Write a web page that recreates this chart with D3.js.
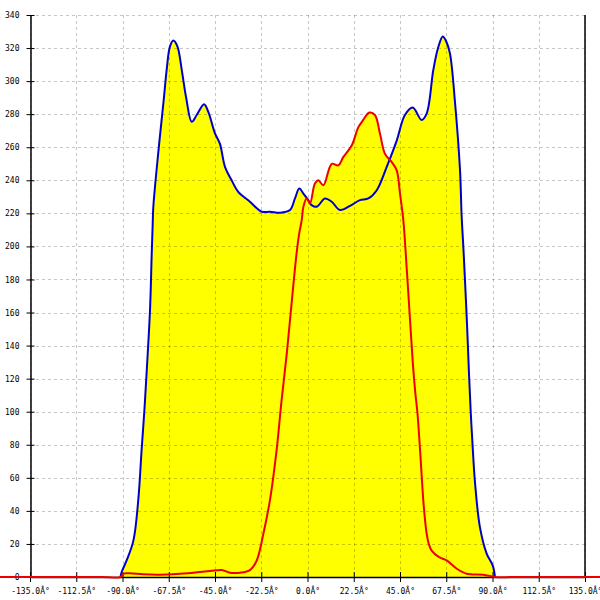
<!DOCTYPE html>
<html><head><meta charset="utf-8">
<script src="https://cdn.jsdelivr.net/npm/d3@7/dist/d3.min.js"></script>
<style>body{margin:0;background:#fff}svg{display:block}</style>
</head><body>
<svg id="c" width="600" height="600"></svg>
<script>
const xTicks = [-135, -112.5, -90, -67.5, -45, -22.5, 0, 22.5, 45, 67.5, 90, 112.5, 135];
const yTicks = [0,20,40,60,80,100,120,140,160,180,200,220,240,260,280,300,320,340];

const blueAngles = [-91,-90.4,-88,-84.7,-82.3,-80.7,-79.4,-78.2,-76.6,-75.8,-75.3,-75,-72.5,-70,-68.5,-66.9,-65.3,-63.3,-61.2,-59.1,-56.3,-53.9,-50.3,-48.3,-45,-42.6,-40.1,-36.9,-33.7,-28,-22.3,-18.2,-13.4,-8.5,-6.1,-4,-2,0.4,2,4.5,8.5,11.8,15.8,20.7,25.5,29.6,33.7,38.5,43.4,47.4,51.2,55.5,58,61.2,63.5,65.8,67.5,69.3,71.8,74.2,75,75.8,76.6,77.7,78.6,79.4,80.2,81.5,83.9,87.2,90.1,91.2];
const blueValues = [0,3,10,22,47,77,100,125,162,195,214,224,258,288,307,321,324.5,321,307,290.5,275.4,279.5,286,281.5,268.4,262,248,240,233,227,221,221,220.4,222,229,235,232,228,225,224,229,227,222,224.5,228,229,234,248,264,279.5,284,276.5,280.5,306.7,320,327,324,316.8,286.6,246,218,200,180,150,122,100,82,57,30,14,7,0];

const redAngles = [-180,-150,-120,-100,-91,-89.6,-86.3,-79.9,-71.8,-63.6,-55.5,-47.4,-41.7,-37.7,-32.8,-28,-24.7,-21.5,-18.2,-15,-12.6,-10.1,-7.7,-5.3,-4,-2.8,-2,-0.4,1.2,3.6,5.3,7.7,11.8,15,17.4,21.5,24.7,27.1,30.1,32.8,35.3,37.7,41,43.4,45,46.6,48.3,49.9,51.2,52.4,53.5,54.7,56.3,57.3,58,59,60.4,64,67.7,72.6,77.4,85.5,91.2,100,120,150,180];
const redValues = [0,0,0,0,0,2,2.2,1.6,1.4,1.8,2.6,3.6,4.2,2.6,2.6,4.2,10,26,47,77,107,135,166,196,208,216,224,229,226,238,240,237,250,249,254,261,272,276.5,281,279.5,268,256,251,246,232,216,186,155,130,112,99,78,47,33,26,20,16,12,10,5,2,1.4,0,0,0,0,0];

const svg = d3.select("#c");
const x = d3.scaleLinear().domain([-135, 135]).range([30, 585]);
const y = d3.scaleLinear().domain([0, 340]).range([577, 15]);

const blue = blueAngles.map((a,i)=>[a, blueValues[i]]);
const red = redAngles.map((a,i)=>[a, redValues[i]]);

const curve = d3.curveCatmullRom.alpha(0.5);
const area = d3.area().x(d=>x(d[0])).y0(y(0)).y1(d=>y(d[1])).curve(curve);
const line = d3.line().x(d=>x(d[0])).y(d=>y(d[1])).curve(curve);

svg.append("path").attr("d", area(blue)).attr("fill", "#ffff00");
svg.append("path").attr("d", area(red)).attr("fill", "#ffff00");

// grid
const g = svg.append("g").attr("stroke", "rgba(0,0,0,0.22)").attr("stroke-dasharray", "3,3").attr("stroke-width", 1);
yTicks.forEach(t => g.append("line").attr("x1", 30).attr("x2", 585).attr("y1", Math.round(y(t))+0.5).attr("y2", Math.round(y(t))+0.5));
xTicks.forEach(t => g.append("line").attr("y1", 15).attr("y2", 577).attr("x1", Math.round(x(t))+0.5).attr("x2", Math.round(x(t))+0.5));

const font = "'DejaVu Sans Mono', monospace";
// left axis
const ya = svg.append("g").attr("transform", "translate(30.5,0)")
  .call(d3.axisLeft(y).tickValues(yTicks).tickFormat(d3.format("d")).tickSizeInner(4).tickSizeOuter(0).tickPadding(7));
ya.selectAll(".tick line").attr("x2", 4).attr("x1", -4).attr("stroke", "#000");
ya.select(".domain").attr("stroke", "#000").attr("stroke-width", 1.5);
ya.selectAll("text").attr("font-family", font).attr("font-size", 8).attr("fill", "#000");

// bottom axis
const xa = svg.append("g").attr("transform", "translate(0,577)")
  .call(d3.axisBottom(x).tickValues(xTicks).tickFormat(d => d.toFixed(1) + "Â°").tickSizeInner(5).tickSizeOuter(0).tickPadding(6));
xa.selectAll(".tick line").attr("y1", -5).attr("y2", 5).attr("stroke", "#000");
xa.select(".domain").attr("stroke", "#000").attr("stroke-width", 1.5);
xa.selectAll("text").attr("font-family", font).attr("font-size", 8).attr("fill", "#000");

// right border
svg.append("line").attr("x1", x(135)).attr("x2", x(135)).attr("y1", 15).attr("y2", 577).attr("stroke", "#000").attr("stroke-width", 1.5);

svg.append("path").attr("d", line(blue)).attr("fill", "none").attr("stroke", "#0000cc").attr("stroke-width", 2);
svg.append("path").attr("d", line(red)).attr("fill", "none").attr("stroke", "#ee0000").attr("stroke-width", 2);
</script>
</body></html>
